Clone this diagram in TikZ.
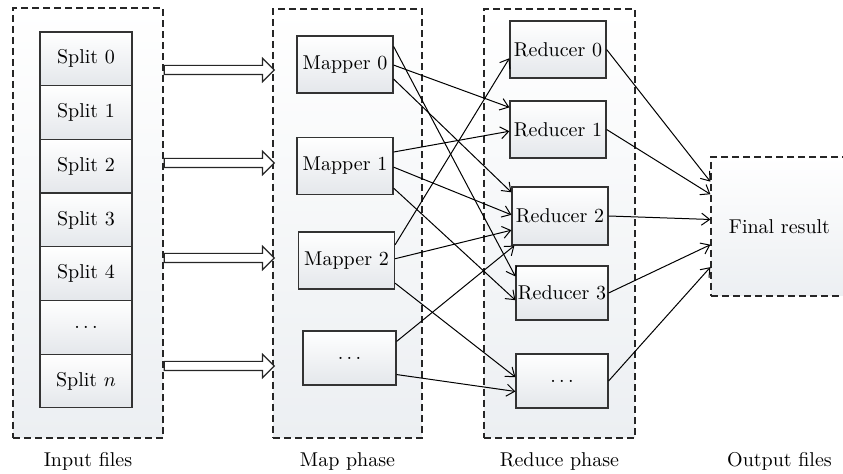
\documentclass[tikz,border=0pt]{standalone}
\usepackage{tikz}
\usepackage{xcolor}
\usetikzlibrary{shapes.arrows}
\usetikzlibrary{calc,positioning,arrows.meta}
\definecolor{boxgray}{RGB}{228,231,235}
\definecolor{panelgray}{RGB}{236,239,242}
\tikzset{
	panel/.style={draw=black!85,dash pattern=on 3.5pt off 2pt,line width=0.6pt,top color=white,bottom color=panelgray,inner sep=0pt},
	cell/.style={draw=black!80,line width=0.6pt,top color=white,bottom color=boxgray,minimum width=46pt,minimum height=26.85pt,inner sep=0pt},
	job/.style={draw=black!80,line width=0.6pt,top color=white,bottom color=boxgray,minimum width=48pt,minimum height=28.5pt,inner sep=0pt},
	feed/.style={shape=single arrow,draw=black!85,fill=white,line width=0.6pt,minimum height=55pt,inner sep=2pt,single arrow head extend=3.5pt,anchor=tail},
	link/.style={-{Straight Barb[length=4pt,width=6pt]},line width=0.5pt},
	phase/.style={inner sep=1pt,text height=7pt,text depth=2pt}
}
\begin{document}
\begin{tikzpicture}[x=0.5pt,y=-0.5pt]

\useasboundingbox (0,0) rectangle (843,474);
% phases
\node[panel,minimum width=75pt,minimum height=215pt] (inp) at (88,223) {};
\node[panel,minimum width=74.5pt,minimum height=214.5pt] (map) at (347.5,223.5) {};
\node[panel,minimum width=75.5pt,minimum height=214.5pt] (red) at (559.5,223.5) {};
\node[panel,minimum width=68.5pt,minimum height=69.5pt] (outbox) at (779.5,226.5) {Final result};

% splits
\foreach \i/\txt in {0/Split 0,1/Split 1,2/Split 2,3/Split 3,4/Split 4,5/$\dots$,6/Split $n$}
	\node[cell] (s\i) at (86,{58.8+53.7*\i}) {\txt};

% mappers and reducers
\node[job] (m0) at (345,64.5) {Mapper 0};
\node[job] (m1) at (345,166) {Mapper 1};
\node[job] (m2) at (346.5,260.5) {Mapper 2};
\node[job,minimum width=46.5pt,minimum height=27pt] (md) at (349.5,358) {$\dots$};
\node[job] (r0) at (558,49.5) {Reducer 0};
\node[job] (r1) at (558,129.5) {Reducer 1};
\node[job,minimum height=29pt] (r2) at (560,216) {Reducer 2};
\node[job,minimum width=46pt,minimum height=27pt] (r3) at (562,293) {Reducer 3};
\node[job,minimum width=46pt,minimum height=27pt] (rd) at (562,381) {$\dots$};

% input to map
\foreach \y in {70,163,258,366}
	\node[feed] (f\y) at (inp.east |- 0,\y) {};

% map to reduce
\draw[link] ($(m0.north east)!.19!(m0.south east)$) -- ($(r3.north west)!.2!(r3.south west)$);
\draw[link] ($(m0.north east)!.51!(m0.south east)$) -- ($(r1.north west)!.12!(r1.south west)$);
\draw[link] ($(m0.north east)!.75!(m0.south east)$) -- ($(r2.north west)!.1!(r2.south west)$);
\draw[link] ($(m1.north east)!.26!(m1.south east)$) -- ($(r1.north west)!.53!(r1.south west)$);
\draw[link] ($(m1.north east)!.52!(m1.south east)$) -- ($(r2.north west)!.48!(r2.south west)$);
\draw[link] ($(m1.north east)!.88!(m1.south east)$) -- ($(r3.north west)!.63!(r3.south west)$);
\draw[link] ($(m2.north east)!.23!(m2.south east)$) -- ($(r0.north west)!.65!(r0.south west)$);
\draw[link] ($(m2.north east)!.47!(m2.south east)$) -- ($(r2.north west)!.74!(r2.south west)$);
\draw[link] ($(m2.north east)!.89!(m2.south east)$) -- ($(rd.north west)!.43!(rd.south west)$);
\draw[link] ($(md.north east)!.2!(md.south east)$) -- ([xshift=1.5pt]r2.south west);
\draw[link] ($(md.north east)!.8!(md.south east)$) -- ($(rd.north west)!.69!(rd.south west)$);

% reduce to output
\draw[link] (r0.east) -- ($(outbox.north west)!.18!(outbox.south west)$);
\draw[link] (r1.east) -- ($(outbox.north west)!.27!(outbox.south west)$);
\draw[link] (r2.east) -- ($(outbox.north west)!.45!(outbox.south west)$);
\draw[link] (r3.east) -- ($(outbox.north west)!.63!(outbox.south west)$);
\draw[link] (rd.east) -- ($(outbox.north west)!.79!(outbox.south west)$);

% captions
\node[phase,below=6pt of inp] (inlab) {Input files};
\node[phase,below=6pt of map] (maplab) {Map phase};
\node[phase,below=6pt of red] (redlab) {Reduce phase};
\node[phase] (outlab) at (outbox |- inlab) {Output files};

\end{tikzpicture}
\end{document}
